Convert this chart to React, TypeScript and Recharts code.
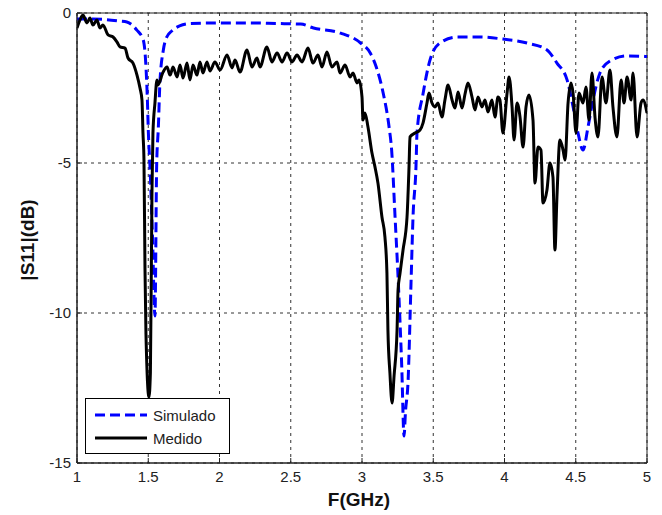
import {
  LineChart,
  Line,
  XAxis,
  YAxis,
  CartesianGrid,
  ReferenceArea,
  Legend
} from "recharts";

// [F (GHz), |S11| (dB)]
const simulado: [number, number][] = [
  [1.0, -0.2], [1.1, -0.2], [1.2, -0.22], [1.3, -0.27], [1.35, -0.3],
  [1.42, -0.57], [1.465, -0.9], [1.484, -1.8], [1.494, -2.9], [1.501, -4.0],
  [1.512, -5.1], [1.53, -7.5], [1.547, -10.1], [1.559, -5.1], [1.571, -3.8],
  [1.582, -2.3], [1.606, -1.23], [1.63, -0.8], [1.665, -0.6], [1.72, -0.43],
  [1.8, -0.35], [2.0, -0.33], [2.2, -0.33], [2.4, -0.35], [2.57, -0.37],
  [2.66, -0.5], [2.85, -0.67], [2.99, -1.0], [3.06, -1.35], [3.1, -1.8],
  [3.15, -2.7], [3.19, -3.8], [3.208, -4.57], [3.232, -6.8], [3.255, -9.0],
  [3.279, -11.8], [3.295, -14.1], [3.305, -13.3], [3.323, -12.3], [3.344, -9.0],
  [3.358, -6.8], [3.379, -5.1], [3.386, -4.0], [3.428, -2.7], [3.477, -1.57],
  [3.547, -1.0], [3.667, -0.8], [3.828, -0.8], [3.99, -0.87], [4.158, -1.0],
  [4.298, -1.23], [4.368, -1.67], [4.439, -2.23], [4.48, -3.1], [4.516, -4.0],
  [4.551, -4.57], [4.586, -3.8], [4.621, -2.9], [4.67, -2.0], [4.74, -1.6],
  [4.86, -1.43], [5.0, -1.45]
];

const medido: [number, number][] = [
  [1.0, -0.5], [1.021, -0.23], [1.042, -0.07], [1.07, -0.33], [1.091, -0.17],
  [1.112, -0.4], [1.14, -0.23], [1.161, -0.5], [1.182, -0.4], [1.218, -0.73],
  [1.253, -0.8], [1.281, -0.97], [1.302, -1.13], [1.337, -1.17], [1.358, -1.5],
  [1.393, -1.67], [1.421, -2.07], [1.442, -2.5], [1.456, -2.9], [1.463, -4.0],
  [1.47, -4.9], [1.477, -8.5], [1.484, -10.7], [1.505, -12.8], [1.515, -12.0],
  [1.526, -6.0], [1.533, -4.0], [1.547, -3.0], [1.561, -2.23], [1.568, -2.4],
  [1.604, -1.97], [1.632, -1.8], [1.653, -2.07], [1.674, -1.8], [1.702, -2.13],
  [1.723, -1.73], [1.744, -2.17], [1.772, -1.67], [1.793, -2.23], [1.814, -1.73],
  [1.842, -2.07], [1.863, -1.63], [1.884, -2.0], [1.912, -1.63], [1.933, -1.93],
  [1.968, -1.63], [2.004, -1.9], [2.053, -1.4], [2.088, -1.83], [2.109, -1.57],
  [2.144, -1.97], [2.193, -1.23], [2.228, -1.8], [2.263, -1.5], [2.284, -1.8],
  [2.333, -1.13], [2.368, -1.63], [2.404, -1.33], [2.439, -1.63], [2.474, -1.33],
  [2.509, -1.63], [2.544, -1.4], [2.579, -1.63], [2.621, -1.17], [2.656, -1.67],
  [2.691, -1.4], [2.719, -1.8], [2.754, -1.3], [2.789, -1.8], [2.825, -1.63],
  [2.846, -2.0], [2.881, -1.73], [2.916, -2.13], [2.937, -2.0], [2.965, -2.33],
  [2.979, -2.23], [3.0, -2.8], [3.007, -3.57], [3.021, -3.33], [3.042, -3.8],
  [3.07, -4.67], [3.091, -5.13], [3.112, -5.67], [3.14, -6.8], [3.161, -7.47],
  [3.175, -8.67], [3.182, -10.57], [3.196, -12.0], [3.211, -13.0], [3.225, -12.1],
  [3.246, -10.57], [3.253, -9.23], [3.267, -8.67], [3.288, -7.9], [3.316, -6.8],
  [3.33, -5.13], [3.337, -4.13], [3.372, -4.0], [3.407, -3.9], [3.428, -3.67],
  [3.456, -3.0], [3.47, -2.67], [3.491, -3.0], [3.512, -3.13], [3.533, -3.0],
  [3.561, -3.47], [3.582, -2.9], [3.604, -2.4], [3.632, -2.9], [3.653, -3.17],
  [3.674, -2.63], [3.702, -3.17], [3.723, -2.7], [3.744, -2.33], [3.772, -2.8],
  [3.793, -3.23], [3.814, -2.8], [3.842, -3.13], [3.863, -2.9], [3.884, -3.3],
  [3.912, -2.9], [3.933, -3.47], [3.954, -2.8], [3.968, -2.9], [3.989, -4.0],
  [4.018, -2.67], [4.032, -2.13], [4.053, -3.13], [4.067, -4.23], [4.088, -3.0],
  [4.109, -3.47], [4.13, -4.47], [4.151, -3.13], [4.172, -2.73], [4.2, -3.57],
  [4.214, -5.67], [4.235, -4.47], [4.256, -4.57], [4.27, -6.33], [4.298, -5.9],
  [4.319, -5.0], [4.34, -5.47], [4.354, -7.9], [4.368, -6.13], [4.389, -4.23],
  [4.411, -4.57], [4.425, -4.9], [4.446, -3.0], [4.467, -2.33], [4.481, -2.67],
  [4.502, -4.0], [4.523, -2.67], [4.551, -3.0], [4.572, -2.47], [4.593, -3.57],
  [4.614, -2.0], [4.635, -3.47], [4.656, -4.13], [4.684, -2.13], [4.712, -3.0],
  [4.74, -1.9], [4.761, -3.13], [4.789, -4.13], [4.818, -2.23], [4.839, -3.0],
  [4.86, -2.13], [4.888, -2.9], [4.902, -2.0], [4.93, -4.13], [4.958, -3.0],
  [4.972, -2.9], [5.0, -3.33]
];

const xTicks = [1, 1.5, 2, 2.5, 3, 3.5, 4, 4.5, 5];
const yTicks = [-15, -10, -5, 0];

const series = [
  { name: "Simulado", color: "#0000ff", dash: "10 5", width: 3, data: simulado },
  { name: "Medido", color: "#000000", dash: undefined, width: 3, data: medido }
];

const font = "Arial, 'Liberation Sans', sans-serif";

const toRows = (pts: [number, number][]) => pts.map(([f, db]) => ({ f, db }));

const YLabel = (props: any) => {
  const vb = props.viewBox;
  const cx = vb.x + 27;
  const cy = vb.y + vb.height / 2 + 2;
  return (
    <text
      x={cx}
      y={cy}
      transform={`rotate(-90 ${cx} ${cy})`}
      textAnchor="middle"
      dominantBaseline="central"
      fontFamily={font}
      fontWeight="bold"
      fontSize={19}
      fill="#111"
    >
      |S11|(dB)
    </text>
  );
};

const XLabel = (props: any) => {
  const vb = props.viewBox;
  return (
    <text
      x={vb.x + vb.width / 2 - 3}
      y={vb.y + 36}
      textAnchor="middle"
      dominantBaseline="central"
      fontFamily={font}
      fontWeight="bold"
      fontSize={19}
      fill="#111"
    >
      F(GHz)
    </text>
  );
};

const LegendBox = () => (
  <svg width={145} height={56} style={{ display: "block" }}>
    <rect x={0.5} y={0.5} width={144} height={55} fill="#fff" stroke="#000" />
    {series.map((s, i) => (
      <g key={s.name}>
        <line
          x1={10}
          x2={62}
          y1={17 + i * 23}
          y2={17 + i * 23}
          stroke={s.color}
          strokeWidth={3}
          strokeDasharray={s.dash}
        />
        <text
          x={68}
          y={17 + i * 23}
          dominantBaseline="central"
          fontFamily={font}
          fontSize={15}
          fill="#222"
        >
          {s.name}
        </text>
      </g>
    ))}
  </svg>
);

const App = () => {
  return (
    <div style={{ position: "absolute", left: 0, top: 0, background: "#fff" }}>
      <LineChart
        width={662}
        height={515}
        margin={{ top: 13, right: 15, left: 0, bottom: 0 }}
      >
        <CartesianGrid stroke="#333" strokeDasharray="3 4" />
        <XAxis
          type="number"
          dataKey="f"
          domain={[1, 5]}
          ticks={xTicks}
          allowDataOverflow
          height={52}
          tickSize={-5}
          tickMargin={13}
          axisLine={{ stroke: "#222" }}
          tickLine={{ stroke: "#222" }}
          tick={{ fill: "#222", fontSize: 15, fontFamily: font }}
          label={XLabel}
        />
        <YAxis
          type="number"
          dataKey="db"
          domain={[-15, 0]}
          ticks={yTicks}
          allowDataOverflow
          width={77}
          tickSize={-5}
          tickMargin={11}
          axisLine={{ stroke: "#222" }}
          tickLine={{ stroke: "#222" }}
          tick={{ fill: "#222", fontSize: 15, fontFamily: font }}
          label={YLabel}
        />
        <ReferenceArea
          x1={1}
          x2={5}
          y1={-15}
          y2={0}
          fill="none"
          stroke="#222"
          strokeWidth={1}
        />
        {series.map((s) => (
          <Line
            key={s.name}
            name={s.name}
            data={toRows(s.data)}
            dataKey="db"
            type="monotone"
            stroke={s.color}
            strokeWidth={s.width}
            strokeDasharray={s.dash}
            strokeLinejoin="round"
            dot={false}
            activeDot={false}
            isAnimationActive={false}
          />
        ))}
        <Legend
          layout="vertical"
          align="center"
          verticalAlign="middle"
          content={LegendBox}
          wrapperStyle={{ left: 85, top: 398, width: 145, height: 56 }}
        />
      </LineChart>
    </div>
  );
};

export default App;
